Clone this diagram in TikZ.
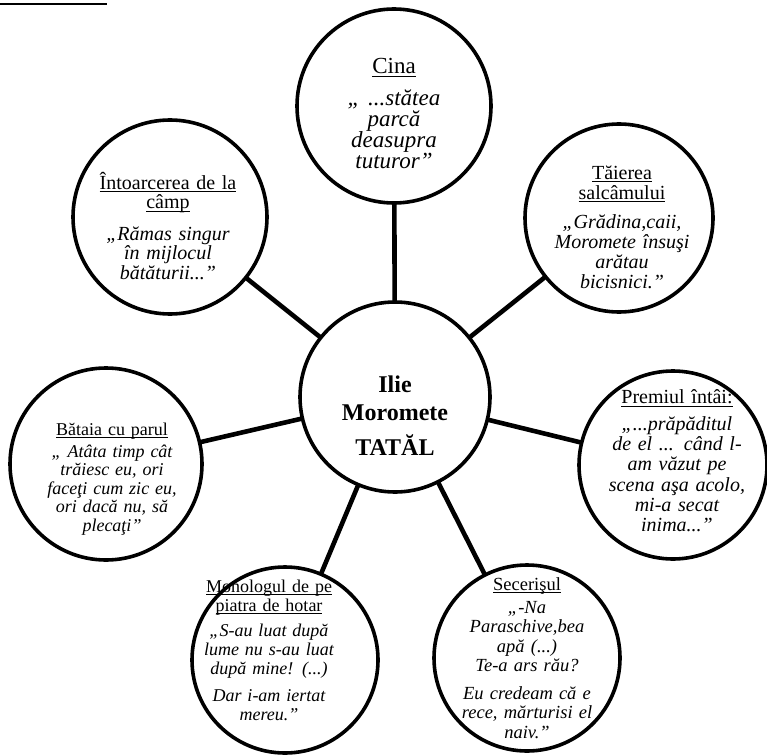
\documentclass[tikz,border=0pt]{standalone}
\usepackage{fontspec}
\setmainfont{Liberation Serif}
\usetikzlibrary{backgrounds}
\newcommand\myul[1]{\setbox0\hbox{#1}\leavevmode\rlap{\rule[-3pt]{\wd0}{1.3pt}}\box0}
\setlength\lineskiplimit{-100pt}
\begin{document}
\begin{tikzpicture}[x=1pt,y=-1pt,
  bub/.style={circle,draw,line width=3.6pt,fill=white,inner sep=0pt},
  conn/.style={line width=4.6pt},
  txt/.style={align=center,inner sep=0pt,text width=240pt}]
\useasboundingbox (0,0) rectangle (767,754);
% top-left remnant underline
\coordinate (ulA) at (0,4);
\coordinate (ulB) at (107,4);
\draw[line width=1.5pt] (ulA) -- (ulB);
% circles
\node[bub,minimum size=190pt] (ctr) at (395,397) {};
\node[bub,minimum size=194pt] (cina) at (394,106) {};
\node[bub,minimum size=188pt] (tai) at (619,218) {};
\node[bub,minimum size=188pt] (prem) at (673,465) {};
\node[bub,minimum size=186pt] (sec) at (527,658) {};
\node[bub,minimum size=186pt] (mono) at (285,660) {};
\node[bub,minimum size=192pt] (bat) at (106,464) {};
\node[bub,minimum size=194pt] (intc) at (170,217) {};
% connectors
\begin{scope}[on background layer]
\foreach \s in {cina,tai,prem,sec,mono,bat,intc}
  \draw[conn] (ctr.center) -- (\s.center);
\end{scope}
% texts
\node[txt,font=\bfseries\fontsize{24}{28}\selectfont] (ctrT) at ([yshift=-19pt]ctr.center)
  {Ilie\\Moromete\\[7pt]TATĂL};
\node[txt,font=\fontsize{23}{21}\selectfont] (cinaT) at ([yshift=-8pt]cina.center)
  {\myul{Cina}\\[11pt]\itshape „ ...stătea\\parcă\\deasupra\\tuturor”};
\node[txt,font=\fontsize{20}{20}\selectfont] (taiT) at ([yshift=-9pt,xshift=3pt]tai.center)
  {\myul{Tăierea}\\\myul{salcâmului}\\[9pt]\itshape „Grădina,caii,\\Moromete însuşi\\arătau\\bicisnici.”};
\node[txt,font=\fontsize{20}{20.3}\selectfont] (premT) at ([yshift=4pt,xshift=4pt]prem.center)
  {\myul{Premiul întâi:}\\[6pt]\itshape „...prăpăditul\\de el ... când l-\\am văzut pe\\scena aşa acolo,\\mi-a secat\\inima...”};
\node[txt,font=\fontsize{18.5}{19.5}\selectfont] (secT) at (sec.center)
  {\myul{Secerişul}\\[3.5pt]\itshape „-Na\\Paraschive,bea\\apă (...)\\Te-a ars rău?\\[8pt]Eu credeam că e\\rece, mărturisi el\\naiv.”};
\node[txt,font=\fontsize{18}{19}\selectfont] (monoT) at ([yshift=10pt,xshift=-16pt]mono.center)
  {\myul{Monologul de pe}\\\myul{piatra de hotar}\\[6pt]\itshape „S-au luat după\\lume nu s-au luat\\după mine! (...)\\[8pt]Dar i-am iertat\\mereu.”};
\node[txt,font=\fontsize{18}{18.5}\selectfont] (batT) at ([yshift=-15pt,xshift=6pt]bat.center)
  {\myul{Bătaia cu parul}\\[3.5pt]\itshape „ Atâta timp cât\\trăiesc eu, ori\\faceţi cum zic eu,\\ori dacă nu, să\\plecaţi”};
\node[txt,font=\fontsize{20}{19.5}\selectfont] (intcT) at ([yshift=-9pt,xshift=-2pt]intc.center)
  {\myul{Întoarcerea de la}\\\myul{câmp}\\[12pt]\itshape „Rămas singur\\în mijlocul\\bătăturii...”};
\end{tikzpicture}
\end{document}
